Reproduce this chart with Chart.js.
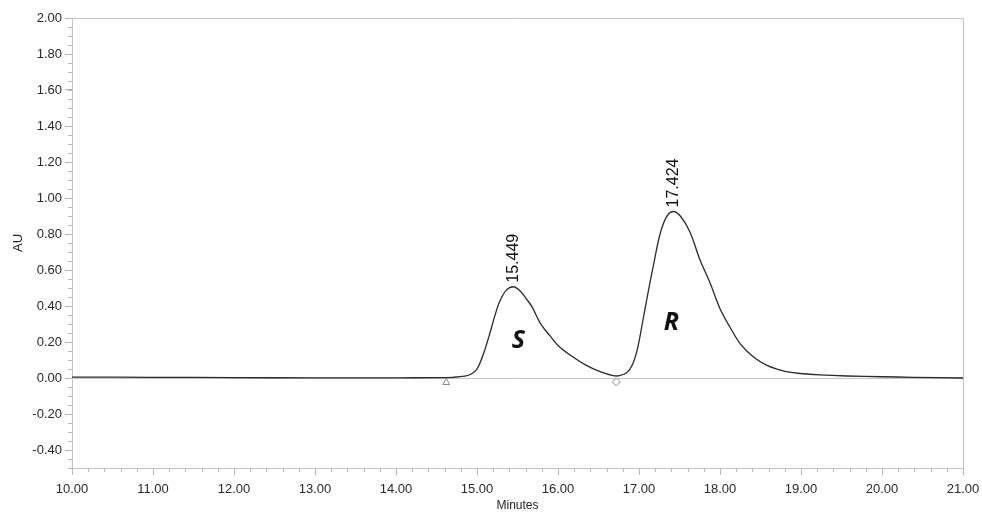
<!DOCTYPE html>
<html>
<head>
<meta charset="utf-8">
<script src="https://cdn.jsdelivr.net/npm/chart.js@4/dist/chart.umd.min.js"></script>
<style>
  body { margin: 0; background: #fff; }
  #wrap { width: 982px; height: 513px; }
</style>
</head>
<body>
<div id="wrap"><canvas id="chromatogram" width="982" height="513"></canvas></div>
<script>
// Chromatogram trace (minutes, AU)
const times = [10.0, 11.0, 12.0, 13.0, 14.0, 14.5, 14.7, 14.85, 14.93, 15.0, 15.08, 15.16, 15.22, 15.28, 15.36, 15.45,
    15.53, 15.6, 15.68, 15.78, 15.9, 16.02, 16.19, 16.35, 16.52, 16.68, 16.76, 16.85, 16.92, 16.98, 17.04, 17.11,
    17.18, 17.26, 17.34, 17.42, 17.51, 17.63, 17.75, 17.88, 18.0, 18.12, 18.25, 18.41, 18.58, 18.74, 18.82, 18.99,
    19.23, 19.56, 20.0, 20.38, 21.0];
const absorbance = [0.005, 0.004, 0.002, 0.001, 0.001, 0.002, 0.004, 0.01, 0.022, 0.05, 0.135, 0.25, 0.345, 0.425, 0.487, 0.507,
    0.485, 0.445, 0.395, 0.305, 0.235, 0.172, 0.115, 0.07, 0.035, 0.013, 0.013, 0.03, 0.075, 0.16, 0.3, 0.47,
    0.63, 0.80, 0.895, 0.925, 0.90, 0.81, 0.66, 0.525, 0.385, 0.285, 0.19, 0.118, 0.07, 0.045, 0.035, 0.025,
    0.017, 0.011, 0.007, 0.004, 0.0];

// Peak retention time labels
const peakTimes = [15.449, 17.424];
const peakHeights = [0.507, 0.925];
const peakLabels = ['15.449', '17.424'];

// Enantiomer annotations
const enantiomerLabels = ['S', 'R'];
const enantiomerTimes = [15.51, 17.40];
const enantiomerLevels = [0.206, 0.304];

// Integration markers
const markerTimes = [14.62, 16.72];
const markerLevels = [-0.025, -0.022];
const markerStyles = ['triangle', 'rectRot'];

// Axis ticks
const xTicks = [10, 11, 12, 13, 14, 15, 16, 17, 18, 19, 20, 21];
const yTicks = [-0.4, -0.2, 0, 0.2, 0.4, 0.6, 0.8, 1.0, 1.2, 1.4, 1.6, 1.8, 2.0];
const xMinorStep = 0.2;
const yMinorStep = 0.05;

const FONT = "'Liberation Sans', Arial, sans-serif";
const AXIS_GREY = '#c4c4c4';

// Frame, zero line, minor ticks and text annotations
const decorations = {
    id: 'decorations',
    beforeDatasetsDraw(chart) {
        const { ctx, chartArea, scales } = chart;
        const y0 = Math.round(scales.y.getPixelForValue(0)) + 0.5;
        ctx.save();
        ctx.strokeStyle = AXIS_GREY;
        ctx.lineWidth = 1;
        ctx.beginPath();
        ctx.moveTo(chartArea.left, y0);
        ctx.lineTo(chartArea.right, y0);
        ctx.stroke();
        ctx.restore();
    },
    afterDraw(chart) {
        const { ctx, chartArea, scales } = chart;
        const x = scales.x, y = scales.y;
        ctx.save();

        // top and right frame
        ctx.strokeStyle = AXIS_GREY;
        ctx.lineWidth = 1;
        ctx.beginPath();
        ctx.moveTo(chartArea.left, chartArea.top + 0.5);
        ctx.lineTo(chartArea.right + 0.5, chartArea.top + 0.5);
        ctx.lineTo(chartArea.right + 0.5, chartArea.bottom);
        ctx.stroke();

        // minor ticks
        ctx.strokeStyle = '#b8b8b8';
        ctx.beginPath();
        for (let v = x.min; v <= x.max + 1e-9; v += xMinorStep) {
            const px = Math.round(x.getPixelForValue(v)) + 0.5;
            ctx.moveTo(px, chartArea.bottom);
            ctx.lineTo(px, chartArea.bottom + 4);
        }
        for (let v = y.min; v <= y.max + 1e-9; v += yMinorStep) {
            const py = Math.round(y.getPixelForValue(v)) + 0.5;
            ctx.moveTo(chartArea.left, py);
            ctx.lineTo(chartArea.left - 4, py);
        }
        ctx.stroke();

        // retention time labels
        ctx.fillStyle = '#111';
        ctx.font = '16px ' + FONT;
        ctx.textAlign = 'left';
        ctx.textBaseline = 'middle';
        peakTimes.forEach((t, i) => {
            const px = x.getPixelForValue(t);
            const py = y.getPixelForValue(peakHeights[i]);
            ctx.save();
            ctx.translate(px, py - 4);
            ctx.rotate(-Math.PI / 2);
            ctx.fillText(peakLabels[i], 0, 0);
            ctx.restore();
        });

        // enantiomer letters
        ctx.font = "italic bold 25px 'Open Sans', sans-serif";
        ctx.textAlign = 'center';
        enantiomerLabels.forEach((label, i) => {
            ctx.fillText(label, x.getPixelForValue(enantiomerTimes[i]), y.getPixelForValue(enantiomerLevels[i]));
        });
        ctx.restore();
    }
};

const ctx = document.getElementById('chromatogram');
new Chart(ctx, {
    type: 'line',
    data: {
        datasets: [{
            data: times.map((t, i) => ({ x: t, y: absorbance[i] })),
            borderColor: '#2a2a2a',
            borderWidth: 1.3,
            pointRadius: 0,
            tension: 0.35,
            fill: false
        }, {
            type: 'scatter',
            data: markerTimes.map((t, i) => ({ x: t, y: markerLevels[i] })),
            pointStyle: markerStyles,
            pointRadius: 4,
            borderColor: '#8a8a8a',
            backgroundColor: '#fff',
            borderWidth: 1,
            showLine: false
        }]
    },
    options: {
        responsive: false,
        animation: false,
        layout: { padding: { top: 18, right: 19, left: 0, bottom: 0 } },
        plugins: {
            legend: { display: false },
            tooltip: { enabled: false }
        },
        scales: {
            x: {
                type: 'linear',
                min: 10,
                max: 21,
                afterBuildTicks: scale => { scale.ticks = xTicks.map(v => ({ value: v })); },
                afterFit: scale => {
                    scale.height = 45;
                    scale.paddingLeft = 0;
                    scale.paddingRight = 0;
                },
                ticks: {
                    callback: v => v.toFixed(2),
                    font: { family: FONT, size: 13 },
                    color: '#2a2a2a',
                    padding: 7,
                    maxRotation: 0
                },
                grid: { drawOnChartArea: false, tickLength: 7, tickColor: '#b0b0b0' },
                border: { color: AXIS_GREY },
                title: {
                    display: true,
                    text: 'Minutes',
                    font: { family: FONT, size: 12 },
                    color: '#222',
                    padding: 0
                }
            },
            y: {
                min: -0.5,
                max: 2.0,
                afterBuildTicks: scale => { scale.ticks = yTicks.map(v => ({ value: v })); },
                afterFit: scale => {
                    scale.width = 72;
                    scale.paddingTop = 0;
                    scale.paddingBottom = 0;
                },
                ticks: {
                    callback: v => v.toFixed(2),
                    font: { family: FONT, size: 13 },
                    color: '#2a2a2a',
                    padding: 3
                },
                grid: { drawOnChartArea: false, tickLength: 7, tickColor: '#b0b0b0' },
                border: { color: AXIS_GREY },
                title: {
                    display: true,
                    text: 'AU',
                    font: { family: FONT, size: 13 },
                    color: '#222',
                    padding: { top: 11, bottom: 0 }
                }
            }
        }
    },
    plugins: [decorations]
});
</script>
</body>
</html>
